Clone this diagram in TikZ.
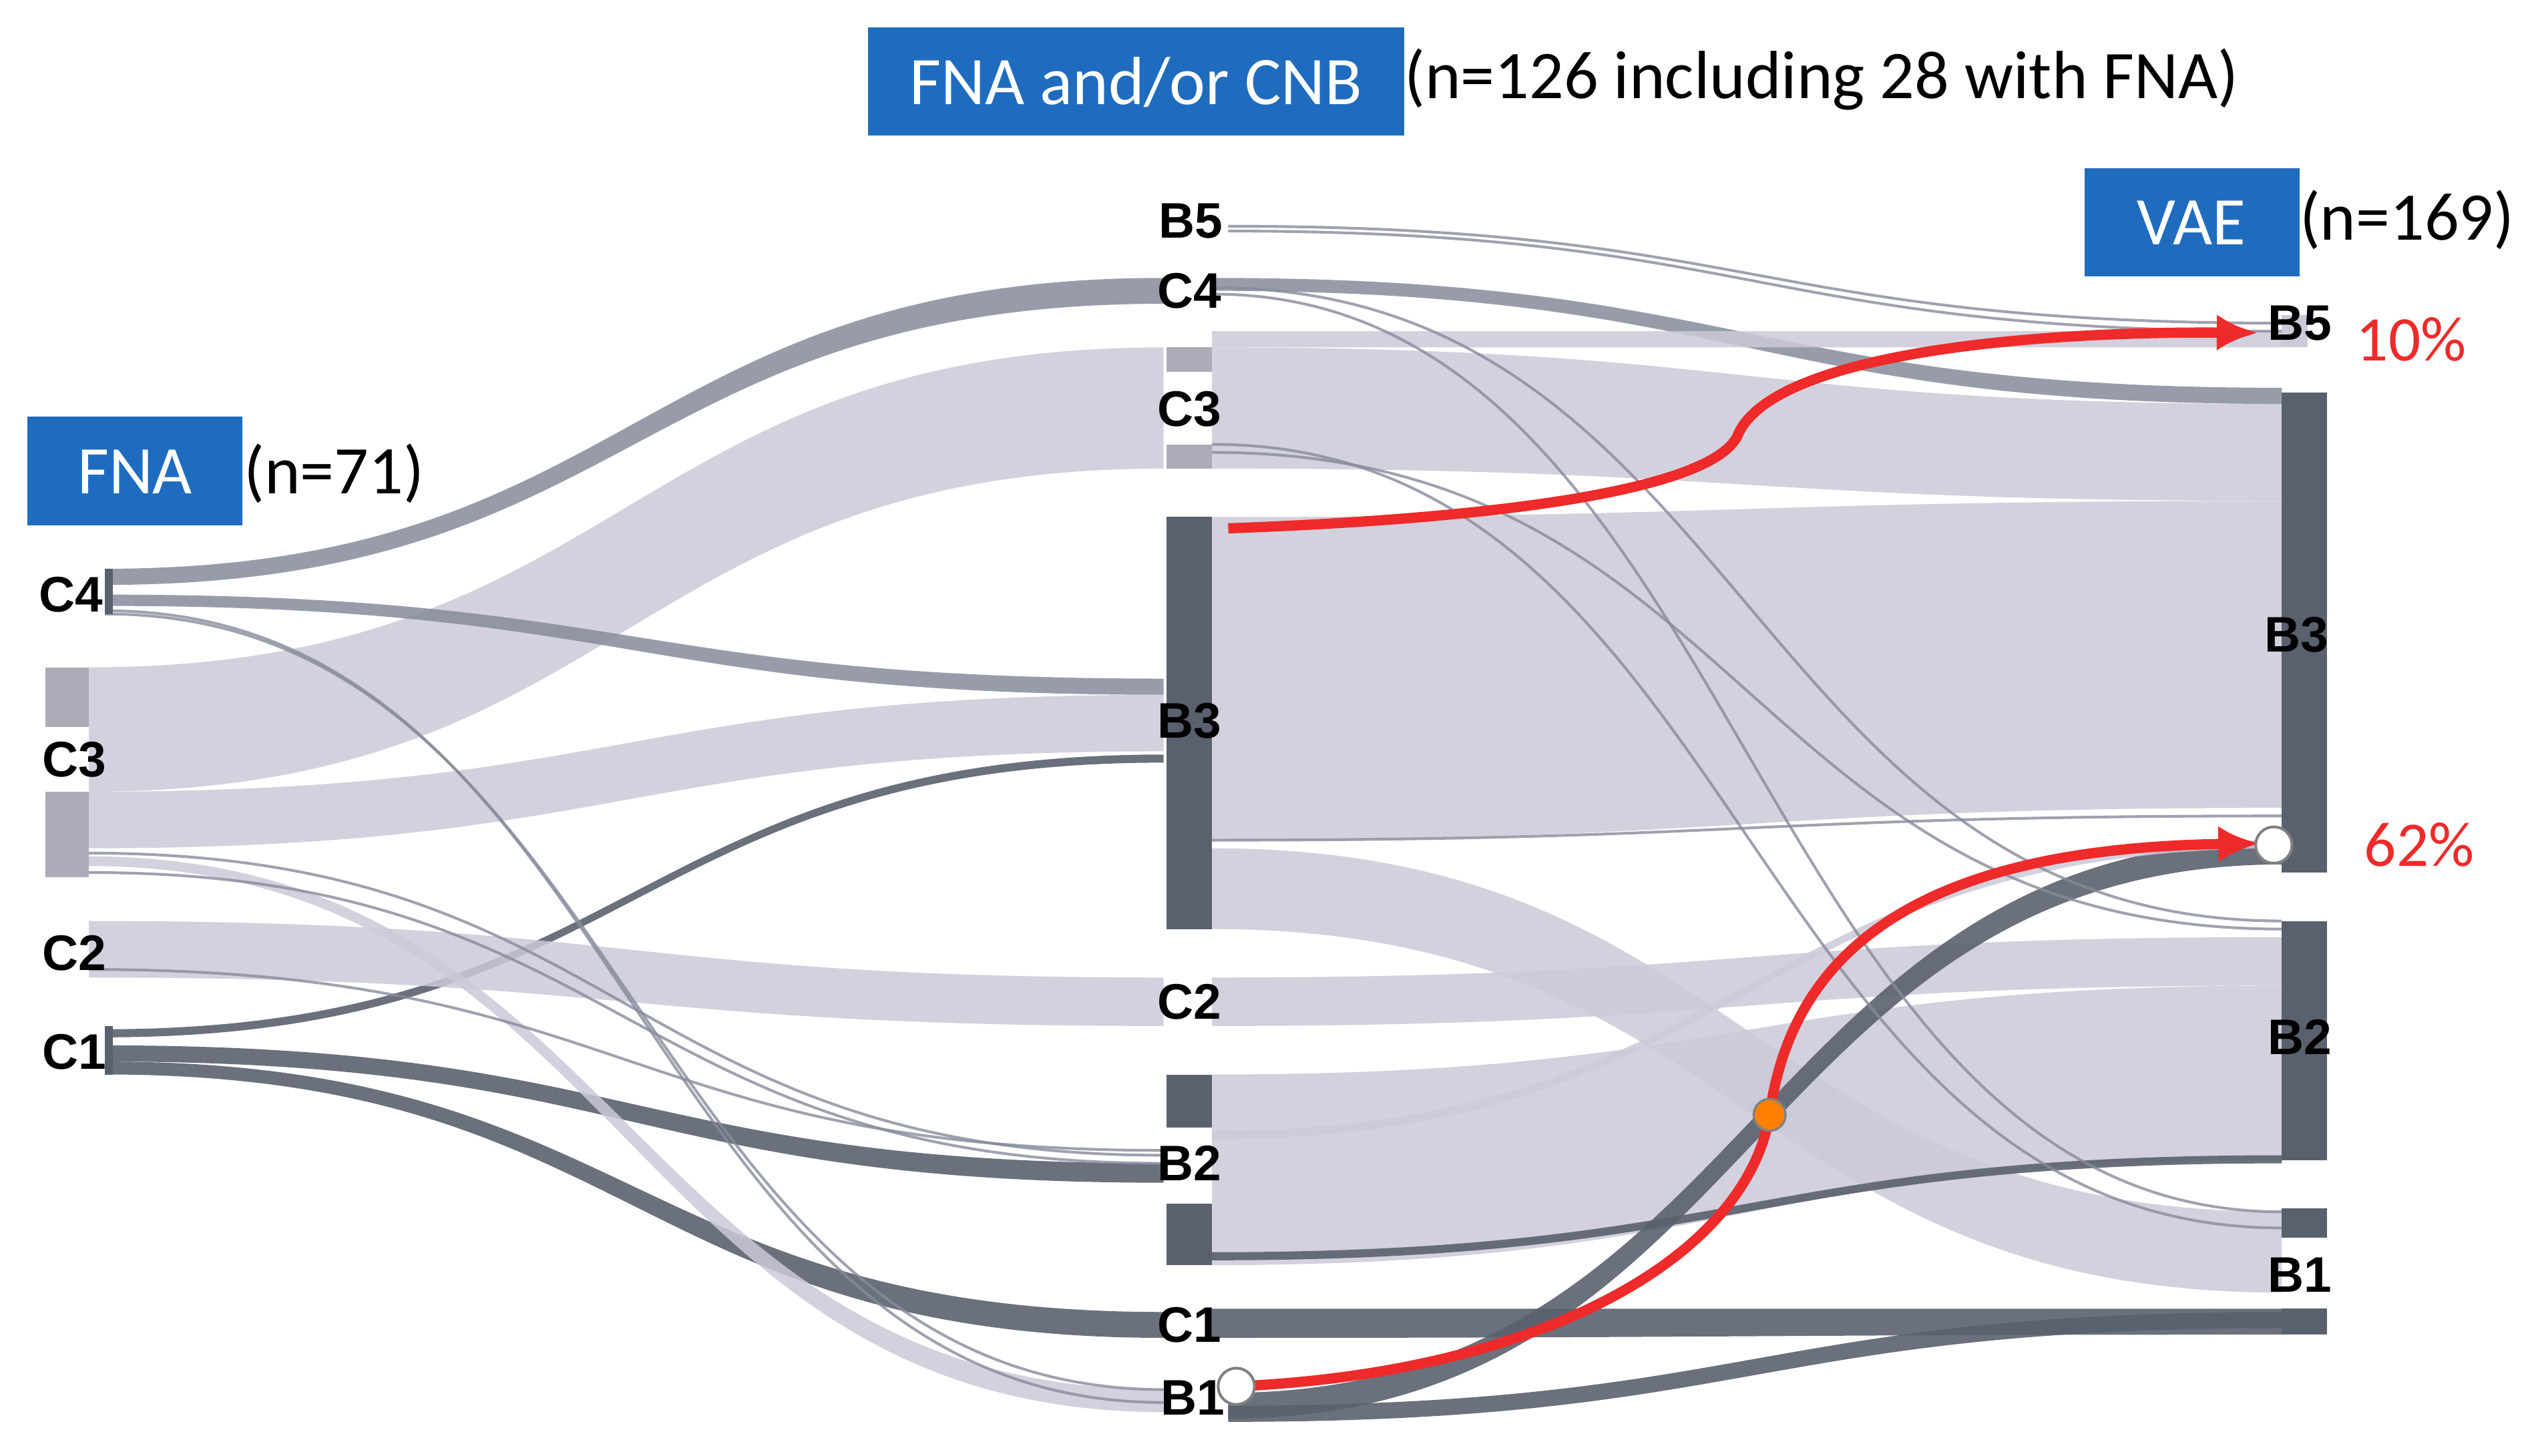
\documentclass[tikz,border=0pt]{standalone}
\usepackage{fontspec}
\setmainfont{Carlito}
\newfontfamily\arl{Liberation Sans}
\usetikzlibrary{arrows.meta}
\begin{document}
\begin{tikzpicture}[x=0.025cm,y=-0.025cm,
  lt/.style={fill=lightb,fill opacity=0.85},
  dk/.style={fill=darkb,fill opacity=0.9},
  md/.style={fill=midb,fill opacity=0.85},
  thin/.style={draw=midb,line width=1.2pt,opacity=0.8},
  nl/.style={font=\arl\bfseries\fontsize{22}{22}\selectfont},
  nt/.style={font=\fontsize{30}{30}\selectfont,anchor=west},
  bt/.style={text=white,font=\fontsize{30}{30}\selectfont},
  pc/.style={text=redc,font=\fontsize{28}{28}\selectfont,anchor=west}]
\definecolor{lightb}{HTML}{CCC9D8}
\definecolor{darkb}{HTML}{5A616E}
\definecolor{midb}{HTML}{868B9B}
\definecolor{boxblue}{HTML}{1F6CBF}
\definecolor{redc}{HTML}{EE2A2A}
\newcommand{\band}[7]{\fill[#7] (#1,#2) .. controls ({(#1+#4)/2},#2) and ({(#1+#4)/2},#5) .. (#4,#5) -- (#4,#6) .. controls ({(#1+#4)/2},#6) and ({(#1+#4)/2},#3) .. (#1,#3) -- cycle;}
\newcommand{\thread}[4]{\draw[thin] (#1,#2) .. controls ({(#1+#3)/2},#2) and ({(#1+#3)/2},#4) .. (#3,#4);}
\useasboundingbox (0,0) rectangle (1568,901);
% left-to-middle bands
\band{65}{352}{362}{720}{172}{188}{md}
\band{55}{413}{490}{720}{215}{290}{lt}
\band{55}{490}{525}{720}{430}{465}{lt}
\band{65}{368}{375}{720}{420}{430}{md}
\band{65}{637}{642}{720}{467}{472}{dk}
\band{55}{570}{605}{720}{605}{635}{lt}
\band{65}{647}{657}{720}{720}{732}{dk}
\band{65}{657}{665}{720}{812}{828}{dk}
\band{55}{530}{536}{720}{860}{874}{lt}
\thread{65}{378}{720}{868}
\thread{65}{380}{720}{860}
\thread{55}{528}{720}{715}
\thread{55}{540}{720}{720}
\thread{55}{600}{720}{712}
% middle-to-right bands
\band{750}{215}{290}{1412}{250}{310}{lt}
\band{750}{320}{520}{1412}{310}{500}{lt}
\band{750}{525}{575}{1412}{750}{800}{lt}
\band{750}{605}{635}{1412}{580}{610}{lt}
\band{750}{665}{783}{1412}{610}{718}{lt}
\band{750}{172}{180}{1412}{240}{250}{md}
\band{750}{205}{215}{1412}{205}{215}{lt}
\band{750}{810}{828}{1412}{810}{826}{dk}
\band{760}{862}{878}{1412}{520}{535}{dk}
\band{760}{870}{880}{1412}{812}{822}{dk}
\band{750}{700}{705}{1412}{520}{525}{lt}
\band{750}{775}{780}{1412}{715}{720}{dk}
\thread{760}{140}{1412}{200}
\thread{760}{143}{1412}{205}
\thread{750}{178}{1412}{570}
\thread{750}{182}{1412}{750}
\thread{750}{275}{1412}{760}
\thread{750}{280}{1412}{575}
\thread{750}{520}{1412}{505}
% node bars
\fill[darkb] (65,352) rectangle (70,380);
\fill[lightb!85!black] (28,413) rectangle (55,450);
\fill[lightb!85!black] (28,490) rectangle (55,543);
\fill[darkb] (65,635) rectangle (70,665);
\fill[darkb] (722,320) rectangle (750,575);
\fill[lightb!85!black] (722,215) rectangle (750,230);
\fill[lightb!85!black] (722,275) rectangle (750,290);
\fill[darkb] (722,665) rectangle (750,698);
\fill[darkb] (722,745) rectangle (750,783);
\fill[darkb] (1412,243) rectangle (1440,540);
\fill[darkb] (1412,570) rectangle (1440,718);
\fill[darkb] (1412,748) rectangle (1440,766);
\fill[darkb] (1412,810) rectangle (1440,826);
\fill[lightb] (1412,195) rectangle (1428,215);
% node labels
\node[nl] (lc4) at (44,368) {C4};
\node[nl] (lc3) at (46,470) {C3};
\node[nl] (lc2) at (46,590) {C2};
\node[nl] (lc1) at (46,651) {C1};
\node[nl] (mb5) at (737,137) {B5};
\node[nl] (mc4) at (736,180) {C4};
\node[nl] (mc3) at (736,253) {C3};
\node[nl] (mb3) at (736,446) {B3};
\node[nl] (mc2) at (736,620) {C2};
\node[nl] (mb2) at (736,720) {B2};
\node[nl] (mc1) at (736,820) {C1};
\node[nl] (mb1) at (738,865) {B1};
\node[nl] (rb5) at (1423,200) {B5};
\node[nl] (rb3) at (1421,393) {B3};
\node[nl] (rb2) at (1423,642) {B2};
\node[nl] (rb1) at (1423,789) {B1};
% boxes
\fill[boxblue] (17,258) rectangle (150,325);
\node[bt] (fnat) at (83.5,292) {FNA};
\node[nt] (fnan) at (146,293) {(n=71)};
\fill[boxblue] (537,17) rectangle (869,84);
\node[bt] (cnbt) at (703,51) {FNA and/or CNB};
\node[nt] (cnbn) at (864,49) {(n=126 including 28 with FNA)};
\fill[boxblue] (1290,104) rectangle (1423,171);
\node[bt] (vaet) at (1356,138) {VAE};
\node[nt] (vaen) at (1418,136) {(n=169)};
% red arrows
\coordinate (r1s) at (760,327);
\coordinate (r1e) at (1397,206);
\draw[redc,line width=4.5pt,-{Latex[length=18pt,width=16pt]}] (r1s) .. controls (950,320) and (1060,300) .. (1075,270) .. controls (1095,220) and (1250,205) .. (r1e);
\node[pc] (p10) at (1453,210) {10\%};
\node[pc] (p62) at (1458,523) {62\%};
\coordinate (r2s) at (765,858);
\coordinate (od) at (1095,690);
\coordinate (r2e) at (1398,522);
\draw[redc,line width=4.5pt] (r2s) .. controls (950,850) and (1080,780) .. (od);
\draw[redc,line width=4.5pt,-{Latex[length=18pt,width=16pt]}] (od) .. controls (1110,580) and (1200,525) .. (r2e);
\node[circle,fill=white,draw=gray,line width=1.2pt,minimum size=16pt,inner sep=0pt] (wc1) at (r2s) {};
\node[circle,fill=white,draw=gray,line width=1.2pt,minimum size=16pt,inner sep=0pt] (wc2) at (1407,523) {};
\node[circle,fill=orange,draw=gray,line width=1pt,minimum size=14pt,inner sep=0pt] (oc) at (od) {};
\end{tikzpicture}
\end{document}
